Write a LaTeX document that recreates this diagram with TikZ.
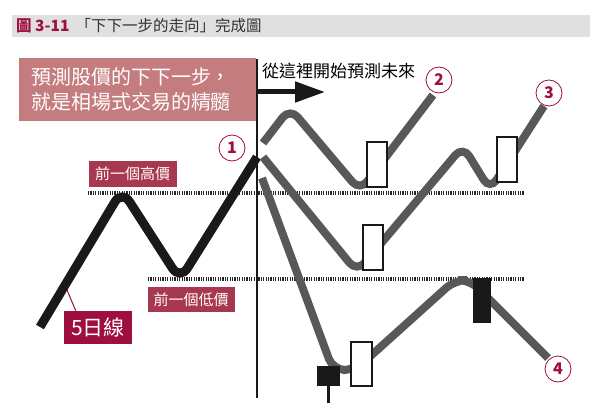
\documentclass[tikz,border=0pt]{standalone}
\usepackage{fontspec}
\setmainfont{Noto Sans CJK TC}
\usepackage{tikz}
\usetikzlibrary{arrows.meta}
\definecolor{vinho}{RGB}{158,14,62}
\definecolor{rosa}{RGB}{196,124,126}
\definecolor{rotulo}{RGB}{168,56,80}
\definecolor{cinza}{RGB}{88,88,88}
\definecolor{barra}{RGB}{224,224,224}
\tikzset{
    media/.style={draw=black!90, line width=9pt, rounded corners=14pt},
    previsao/.style={draw=cinza, line width=8pt, rounded corners=12pt},
    vela/.style={draw=black!90, line width=2.5pt, fill=white},
    velaneg/.style={draw=black!90, line width=1pt, fill=black!90},
    nivel/.style={draw=black!85, line width=4pt, dash pattern=on 1.2pt off 1.2pt},
    etiqueta/.style={fill=rotulo, text=white, inner sep=0pt, font=\fontsize{15}{15}\selectfont},
    num/.style={circle, draw=vinho, text=vinho, line width=0.8pt, minimum size=26pt, inner sep=0pt, font=\fontsize{16}{16}\selectfont\bfseries}
}

\begin{document}
\begin{tikzpicture}[x=1pt, y=-1pt]
    \useasboundingbox (0,0) rectangle (595,412);
    \fill[barra] (12,15) rectangle (590,37);
    \node[anchor=west, inner sep=0pt, font=\fontsize{15.5}{15.5}\selectfont, text=black!80] (titulo) at (16,26)
        {{\color{vinho}\bfseries 圖 3-11}\, 「下下一步的走向」完成圖};

    \node[fill=rosa, text=white, minimum width=237pt, minimum height=63pt, text width=213pt, align=left,
        font=\fontsize{20}{25}\selectfont] (frase) at (137.5,89.5) {預測股價的下下一步，\\就是相場式交易的精髓};

    \draw[nivel] (88,193) -- (524,193);
    \draw[nivel] (148,279) -- (524,279);

    \draw[black!90, line width=2.5pt] (257,59) -- (257,398);
    \draw[black!90, line width=5pt, -{Triangle[length=30pt,width=20pt]}] (257,92) -- (325,92);
    \node[anchor=west, inner sep=0pt, font=\fontsize{17}{17}\selectfont] (futuro) at (262,71) {從這裡開始預測未來};

    \draw[media] (40,327) -- (122,190) -- (180,280) -- (257,157);
    \coordinate (pe) at (67,290);

    \draw[previsao] (263,143) -- (290,108) -- (360,191) -- (433,95);
    \draw[previsao] (263,157) -- (357,272) -- (463,146) -- (490,190) -- (544,106);
    \draw[previsao] (262,178) -- (333,370) -- (355,370) -- (455,280) -- (470,280) -- (548,358);

    \draw[vela] (367,142) rectangle (387,187);
    \draw[vela] (363,225) rectangle (383,270);
    \draw[vela] (497,137) rectangle (517,182);
    \draw[vela] (351,342) rectangle (372,386);
    \draw[velaneg] (473,278) rectangle (490,322);
    \draw[velaneg] (317,366) rectangle (339,385);
    \draw[black!90, line width=3pt] (328,385) -- (328,403);

    \node[etiqueta, minimum width=88pt, minimum height=26pt] (alto) at (132.5,174) {前一個高價};
    \node[etiqueta, minimum width=87pt, minimum height=25pt] (baixo) at (191,299.5) {前一個低價};
    \node[etiqueta, fill=vinho, minimum width=68pt, minimum height=33pt, font=\fontsize{21}{21}\selectfont] (cinco) at (98,327.5) {5日線};
    \draw[vinho, line width=1pt] (pe) -- ([xshift=12pt]cinco.north west);

    \node[num] (n1) at (232,148) {1};
    \node[num] (n2) at (439,80) {2};
    \node[num] (n3) at (549,93) {3};
    \node[num] (n4) at (558,369) {4};
\end{tikzpicture}
\end{document}
